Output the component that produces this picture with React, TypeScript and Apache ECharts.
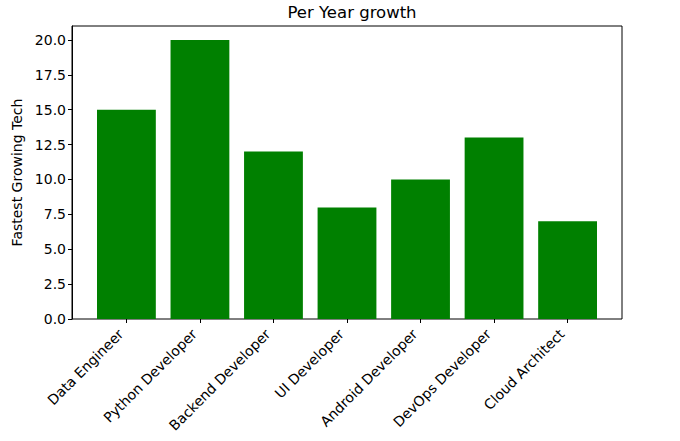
import React, { useEffect, useRef } from "react";
import * as echarts from "echarts";

const categories = [
  "Data Engineer",
  "Python Developer",
  "Backend Developer",
  "UI Developer",
  "Android Developer",
  "DevOps Developer",
  "Cloud Architect",
];
const growthValues = [15, 20, 12, 8, 10, 13, 7];
const titleText = "Per Year growth";
const yAxisTitle = "Fastest Growing Tech";

export default function App() {
  const ref = useRef<HTMLDivElement>(null);
  useEffect(() => {
    document.body.style.margin = "0";
    const chart = echarts.init(ref.current!, null, { renderer: "svg" });
    const font = "DejaVu Sans";
    const L = 72, R = 622, T = 26, B = 319;
    const unit = (R - L) / 7.48;
    const innerLeft = L + 0.24 * unit;
    const innerWidth = 7 * unit;
    chart.setOption({
      animation: false,
      backgroundColor: "#fff",
      textStyle: { fontFamily: font },
      title: {
        text: titleText,
        left: (L + R) / 2,
        textAlign: "center",
        top: -1,
        textStyle: { fontFamily: font, fontSize: 16.5, fontWeight: "normal", color: "#000" },
      },
      grid: [
        {
          left: L, top: T, width: R - L, height: B - T,
          show: true, borderColor: "#000", borderWidth: 1, backgroundColor: "transparent",
        },
        {
          left: innerLeft, top: T, width: innerWidth, height: B - T,
        },
      ],
      xAxis: [
        { type: "value", gridIndex: 0, min: 0, max: 1, show: false },
        {
          type: "category",
          gridIndex: 1,
          data: categories,
          axisLine: { show: false },
          axisTick: { show: true, alignWithLabel: true, length: 4, lineStyle: { color: "#000" } },
          axisLabel: {
            rotate: 45, fontSize: 14, color: "#000", margin: 7, fontFamily: font, interval: 0,
            padding: [0, 8, 0, 0],
          },
        },
      ],
      yAxis: [
        {
          type: "value",
          gridIndex: 0,
          min: 0,
          max: 21,
          interval: 2.5,
          name: yAxisTitle,
          nameLocation: "middle",
          nameGap: 47,
          nameTextStyle: { fontSize: 14, color: "#000", fontFamily: font },
          axisLine: { show: true, lineStyle: { color: "#000" } },
          axisTick: { show: true, length: 4, lineStyle: { color: "#000" } },
          splitLine: { show: false },
          axisLabel: {
            fontSize: 14, color: "#000", margin: 6, fontFamily: font,
            formatter: (v: number) => v.toFixed(1),
            showMaxLabel: false,
          },
        },
        { type: "value", gridIndex: 1, min: 0, max: 21, show: false },
      ],
      series: [
        {
          type: "bar",
          xAxisIndex: 1,
          yAxisIndex: 1,
          data: growthValues,
          barWidth: "80%",
          itemStyle: { color: "#008000" },
        },
      ],
    });
    return () => chart.dispose();
  }, []);
  return <div ref={ref} style={{ width: 680, height: 441 }} />;
}
